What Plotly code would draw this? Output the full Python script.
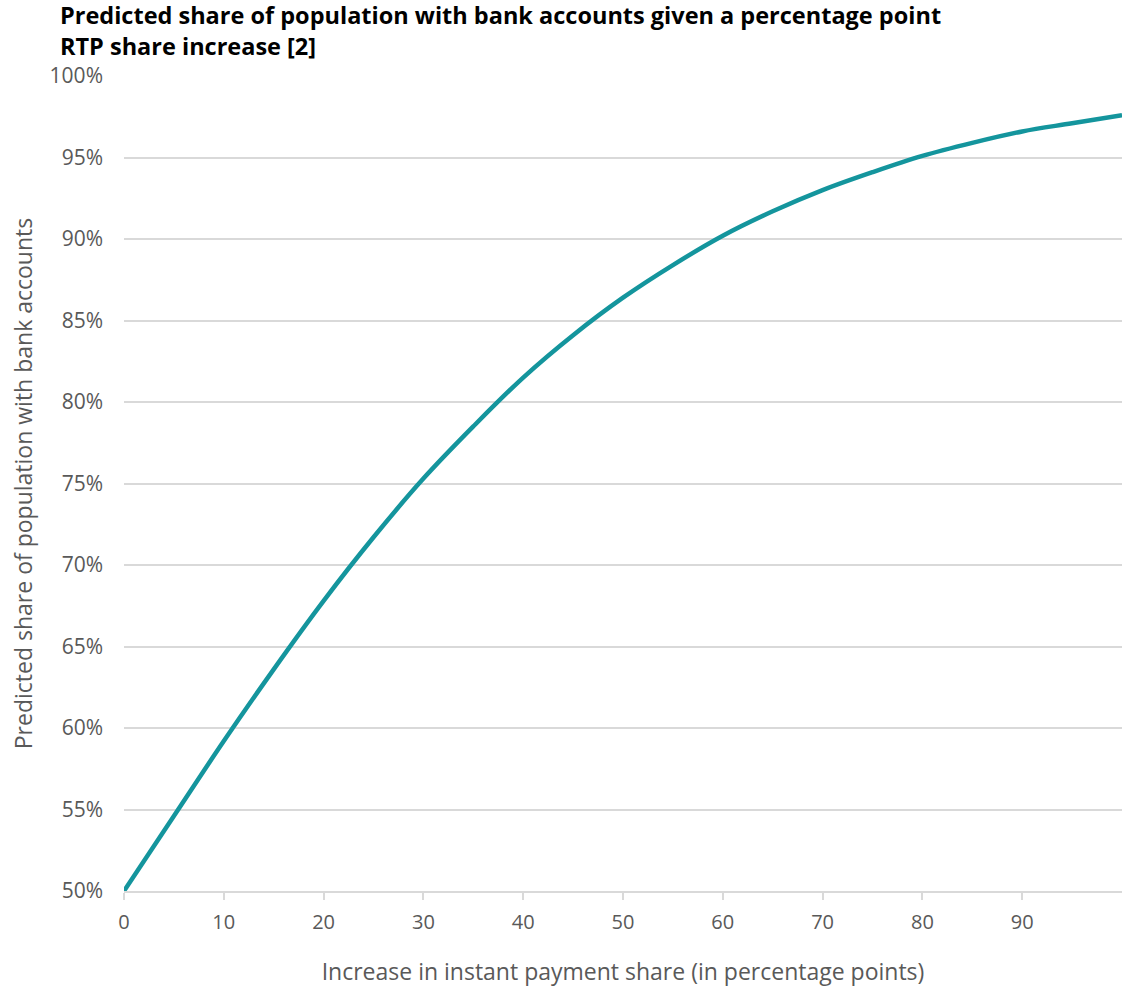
import plotly.graph_objects as go

# Increase in instant payment share (percentage points)
rtp_increase = [0, 5, 10, 15, 20, 25, 30, 35, 40, 45, 50,
                55, 60, 65, 70, 75, 80, 85, 90, 95, 100]
# Predicted share of population with bank accounts
predicted_share = [0.500, 0.546, 0.592, 0.636, 0.678, 0.717, 0.753, 0.785,
                   0.815, 0.841, 0.864, 0.884, 0.902, 0.917, 0.930, 0.941,
                   0.951, 0.959, 0.966, 0.971, 0.976]

x_ticks = [0, 10, 20, 30, 40, 50, 60, 70, 80, 90]
y_ticks = [0.50, 0.55, 0.60, 0.65, 0.70, 0.75, 0.80, 0.85, 0.90, 0.95, 1.00]

FONT = "Open Sans"
GREY = "#595959"

fig = go.Figure()
fig.add_trace(go.Scatter(
    x=rtp_increase, y=predicted_share, mode="lines",
    line=dict(color="#14959D", width=4.5, shape="spline"),
    hoverinfo="x+y",
))

fig.update_layout(
    width=1132, height=988,
    margin=dict(l=124, r=10, t=76, b=97),
    plot_bgcolor="white", paper_bgcolor="white",
    showlegend=False,
    title=dict(
        text="<b>Predicted share of population with bank accounts given a percentage point<br>RTP share increase [2]</b>",
        x=60 / 1132, xanchor="left", y=1 - 24 / 988, yanchor="middle",
        font=dict(family=FONT, size=23.5, color="black"),
    ),
    xaxis=dict(
        range=[0, 100], tickvals=x_ticks, automargin=False,
        showgrid=False, zeroline=False,
        showline=True, linecolor="#D9D9D9", linewidth=2,
        ticks="outside", ticklen=7, tickcolor="#D9D9D9", tickwidth=2,
        ticklabelstandoff=5,
        tickfont=dict(family=FONT, size=20, color=GREY),
        title=dict(text="Increase in instant payment share (in percentage points)",
                   font=dict(family=FONT, size=23, color=GREY), standoff=30),
    ),
    yaxis=dict(
        range=[0.5, 1.0], tickvals=y_ticks, tickformat=".0%", automargin=False,
        showgrid=True, gridcolor="#D9D9D9", gridwidth=1.5,
        zeroline=False, showline=False, ticks="",
        ticklabelstandoff=20,
        tickfont=dict(family=FONT, size=21, color=GREY),
        title=dict(text="Predicted share of population with bank accounts",
                   font=dict(family=FONT, size=23, color=GREY), standoff=10),
    ),
)

fig.write_html("out.html")
